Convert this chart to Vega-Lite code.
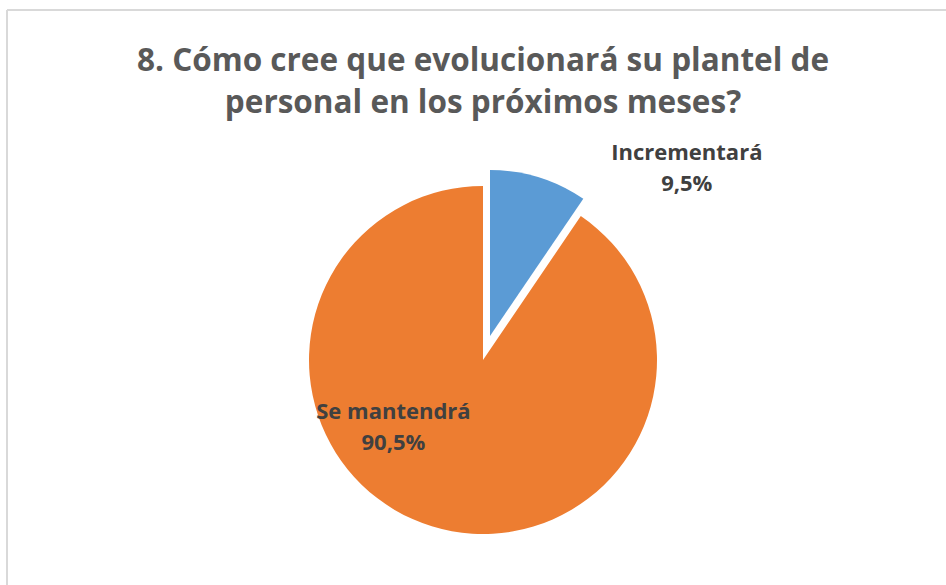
{
  "$schema": "https://vega.github.io/schema/vega-lite/v6.json",
  "width": 952,
  "height": 700,
  "autosize": {"type": "none"},
  "padding": {"left": 7, "top": 10, "right": -13, "bottom": -125},
  "background": "white",
  "config": {"view": {"stroke": null}},
  "title": {
    "text": ["8. Cómo cree que evolucionará su plantel de", "personal en los próximos meses?"],
    "font": "Open Sans",
    "fontSize": 31.5,
    "fontWeight": "bold",
    "color": "#595959",
    "anchor": "middle",
    "lineHeight": 42,
    "baseline": "top",
    "offset": -110
  },
  "data": {
    "values": [
      {"categoria": "Incrementará", "valor": 9.5},
      {"categoria": "Se mantendrá", "valor": 90.5}
    ]
  },
  "transform": [
    {"stack": "valor", "groupby": [], "sort": [{"field": "categoria", "order": "ascending"}], "as": ["v0", "v1"]},
    {"calculate": "(datum.v0 + datum.v1) / 2", "as": "mid"},
    {"calculate": "[datum.categoria, replace(format(datum.valor, '.1f'), '.', ',') + '%']", "as": "etiqueta"}
  ],
  "layer": [
    {
      "transform": [{"filter": "datum.categoria === 'Se mantendrá'"}],
      "mark": {"type": "rect", "fill": null, "fillOpacity": 0, "stroke": "#d9d9d9", "strokeWidth": 2, "strokeDash": [953, 1651, 700, 0]},
      "encoding": {}
    },
    {
      "transform": [{"filter": "datum.categoria === 'Se mantendrá'"}],
      "mark": {"type": "arc", "radius": 174},
      "encoding": {
        "theta": {"field": "v0", "type": "quantitative", "stack": null, "scale": {"domain": [0, 100]}},
        "theta2": {"field": "v1"},
        "color": {"field": "categoria", "type": "nominal", "scale": {"domain": ["Incrementará", "Se mantendrá"], "range": ["#5B9BD5", "#ED7D31"]}, "legend": null}
      }
    },
    {
      "transform": [{"filter": "datum.categoria === 'Incrementará'"}],
      "mark": {"type": "arc", "radius": 166, "xOffset": 7, "yOffset": -24},
      "encoding": {
        "theta": {"field": "v0", "type": "quantitative", "stack": null, "scale": {"domain": [0, 100]}},
        "theta2": {"field": "v1"},
        "color": {"field": "categoria", "type": "nominal", "scale": {"domain": ["Incrementará", "Se mantendrá"], "range": ["#5B9BD5", "#ED7D31"]}, "legend": null}
      }
    },
    {
      "transform": [{"filter": "datum.categoria === 'Se mantendrá'"}],
      "mark": {"type": "text", "radius": 70, "dx": -69, "dy": -15, "font": "Open Sans", "fontSize": 22, "fontWeight": "bold", "color": "#404040", "align": "center", "baseline": "middle", "lineHeight": 31},
      "encoding": {
        "theta": {"field": "mid", "type": "quantitative", "stack": null, "scale": {"domain": [0, 100]}},
        "text": {"field": "etiqueta"}
      }
    },
    {
      "transform": [{"filter": "datum.categoria === 'Incrementará'"}],
      "mark": {"type": "text", "radius": 200, "dx": 145, "dy": -16, "font": "Open Sans", "fontSize": 22, "fontWeight": "bold", "color": "#404040", "align": "center", "baseline": "middle", "lineHeight": 31},
      "encoding": {
        "theta": {"field": "mid", "type": "quantitative", "stack": null, "scale": {"domain": [0, 100]}},
        "text": {"field": "etiqueta"}
      }
    }
  ]
}
